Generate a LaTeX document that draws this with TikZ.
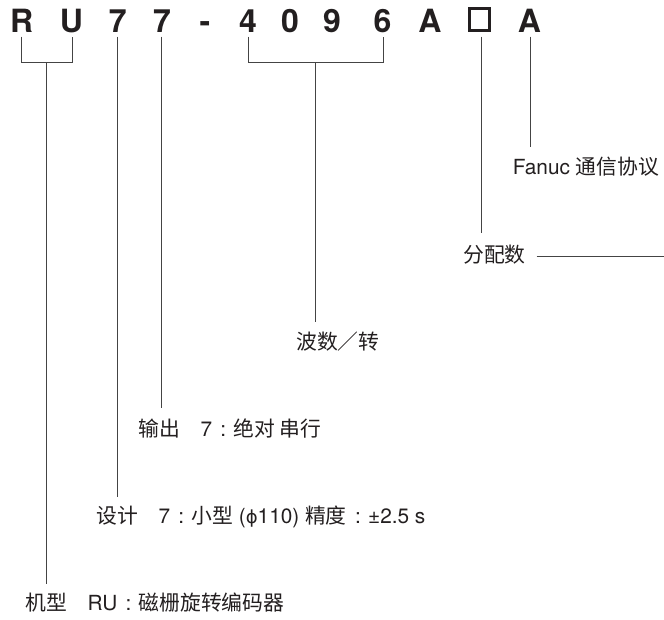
\documentclass[tikz,border=0pt]{standalone}
\usepackage{fontspec}
\setmainfont{TeX Gyre Heros}
\newfontfamily\cjk{Noto Sans CJK SC}
\newfontfamily\dvs{DejaVu Sans}
\usetikzlibrary{calc}
\definecolor{ink}{HTML}{231F20}
\definecolor{lin}{HTML}{444444}
\newcommand{\kc}{\hspace{0.4em}:\hspace{0.35em}}
\begin{document}
\begin{tikzpicture}[x=1pt,y=-1pt,
  top/.style={font=\bfseries\fontsize{32}{32}\selectfont, text=ink, inner sep=0, anchor=base},
  lbl/.style={font=\fontsize{20.8}{24}\selectfont, text=ink, inner sep=0, anchor=west},
  ln/.style={draw=lin, line width=1pt}]
\useasboundingbox[fill=white] (0,0) rectangle (664,619);
% top code
\node[top] (R)  at (21.7,32) {R};
\node[top] (U)  at (71.5,32) {U};
\node[top] (s1) at (117.8,32) {7};
\node[top] (s2) at (162,32) {7};
\node[top] (dash) at (205,32) {-};
\node[top] (d4) at (248,32) {4};
\node[top] (d0) at (290,32) {0};
\node[top] (d9) at (332,32) {9};
\node[top] (d6) at (382.5,32) {6};
\node[top] (A1) at (430,32) {A};
\node[draw=ink, line width=2.6pt, minimum width=19.6pt, minimum height=21.6pt, inner sep=0] (bx) at (479.5,19.5) {};
\node[top] (A2) at (529.5,32) {A};
% labels
\node[lbl] (fanuc) at (512.7,166.7) {Fanuc {\cjk 通信协议}};
\node[lbl] (fp) at (463,255) {\cjk 分配数};
\node[lbl] (bo) at (296,341.7) {\cjk 波数／转};
\node[lbl] (out) at (138,429) {{\cjk 输出}\hspace{1em}7\kc{\cjk 绝对 串行}};
\node[lbl] (des) at (96,516.7) {{\cjk 设计}\hspace{1em}7\kc{\cjk 小型} ({\dvs\fontsize{18}{20}\selectfont ϕ}110) {\cjk 精度}\kc±2.5 s};
\node[lbl] (typ) at (25,602.7) {{\cjk 机型}\hspace{1em}RU\kc{\cjk 磁栅旋转编码器}};
\coordinate (edge) at (664,256.7);
% RU bracket
\draw[ln] ([yshift=-4.7pt,xshift=-0.7pt]R.base) -- ([yshift=-30.7pt,xshift=-0.7pt]R.base) -- ([yshift=-30.7pt,xshift=1.2pt]U.base) -- ([yshift=-4.7pt,xshift=1.2pt]U.base);
\coordinate (ru) at ($(R.base)!.5!(U.base)+(0,30.7)$);
\draw[ln] (ru) -- ++(0,521.3);
% sevens
\draw[ln] ([yshift=-4.7pt,xshift=-0.5pt]s1.base) -- ++(0,460);
\draw[ln] ([yshift=-4.7pt,xshift=-0.7pt]s2.base) -- ++(0,371.3);
% 4096 bracket
\draw[ln] ([yshift=-4.7pt,xshift=0.3pt]d4.base) -- ([yshift=-30.7pt,xshift=0.3pt]d4.base) -- ([yshift=-30.7pt,xshift=0.8pt]d6.base) -- ([yshift=-4.7pt,xshift=0.8pt]d6.base);
\coordinate (nb) at ($(d4.base)!.5!(d6.base)+(0.7,30.7)$);
\draw[ln] (nb) -- ++(0,259);
% box and A
\draw[ln] ([yshift=-4.9pt,xshift=2.2pt]bx.south) -- ++(0,196.3);
\draw[ln] ([yshift=-4.7pt,xshift=1.2pt]A2.base) -- ++(0,110.3);
% horizontal from 分配数
\draw[ln] ([xshift=10.7pt,yshift=-1.7pt]fp.east) -- (edge);
\end{tikzpicture}
\end{document}
